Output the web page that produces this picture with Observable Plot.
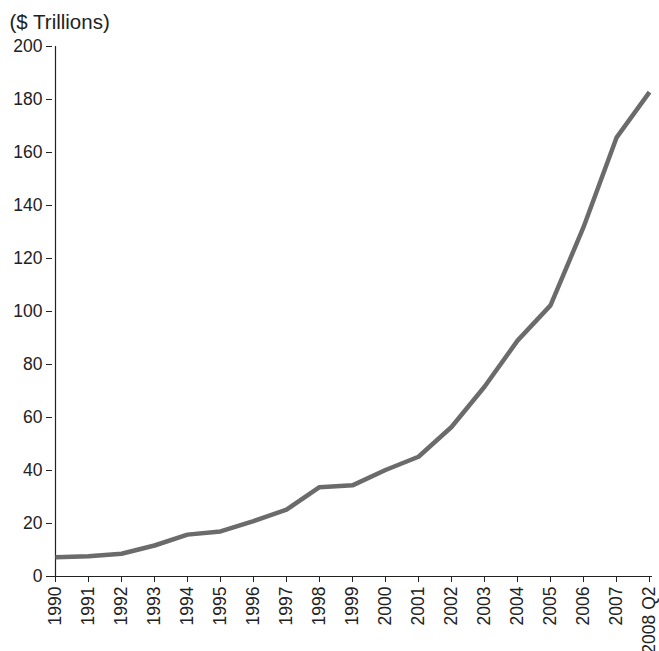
<!DOCTYPE html>
<html>
<head>
<meta charset="utf-8">
<script src="https://cdn.jsdelivr.net/npm/d3@7"></script>
<script src="https://cdn.jsdelivr.net/npm/@observablehq/plot@0.6"></script>
<style>
  html, body { margin: 0; padding: 0; background: #fff; }
  svg { overflow: visible; }
</style>
</head>
<body>
<div id="chart"></div>
<script>
const years = ["1990","1991","1992","1993","1994","1995","1996","1997","1998","1999","2000","2001","2002","2003","2004","2005","2006","2007","2008 Q2"];
const values = [7.3, 7.6, 8.6, 11.7, 15.8, 17.0, 20.9, 25.2, 33.7, 34.4, 40.2, 45.2, 56.4, 71.6, 89.0, 102.3, 131.8, 165.6, 182.8];
const yTicks = [0, 20, 40, 60, 80, 100, 120, 140, 160, 180, 200];
const title = "($ Trillions)";

const data = years.map((y, i) => ({year: y, value: values[i]}));

const chart = Plot.plot({
  width: 659,
  height: 651,
  marginLeft: 52,
  marginRight: 7,
  marginTop: 46,
  marginBottom: 75,
  style: {fontFamily: "'Liberation Sans', Arial, sans-serif", fontSize: "17.5px", color: "#222", background: "#fff"},
  x: {type: "point", domain: years, padding: 0},
  y: {domain: [0, 200]},
  marks: [
    Plot.axisY({ticks: yTicks, tickSize: 6, tickPadding: 4, label: null, fontSize: 17.5, stroke: "#222"}),
    Plot.axisX({tickRotate: -90, tickSize: 6, tickPadding: 4, label: null, fontSize: 17.5, stroke: "#222"}),
    Plot.ruleY([0], {stroke: "#222", strokeWidth: 1.2}),
    Plot.ruleX([years[0]], {stroke: "#222", strokeWidth: 1.2}),
    Plot.line(data, {x: "year", y: "value", stroke: "#6b6b6b", strokeWidth: 4.5, strokeLinejoin: "round", strokeLinecap: "butt"}),
    Plot.text([title], {frameAnchor: "top-left", dx: -43, dy: -24, lineAnchor: "middle", textAnchor: "start", fontSize: 20.5, fill: "#222"})
  ]
});
document.getElementById("chart").appendChild(chart);
</script>
</body>
</html>
